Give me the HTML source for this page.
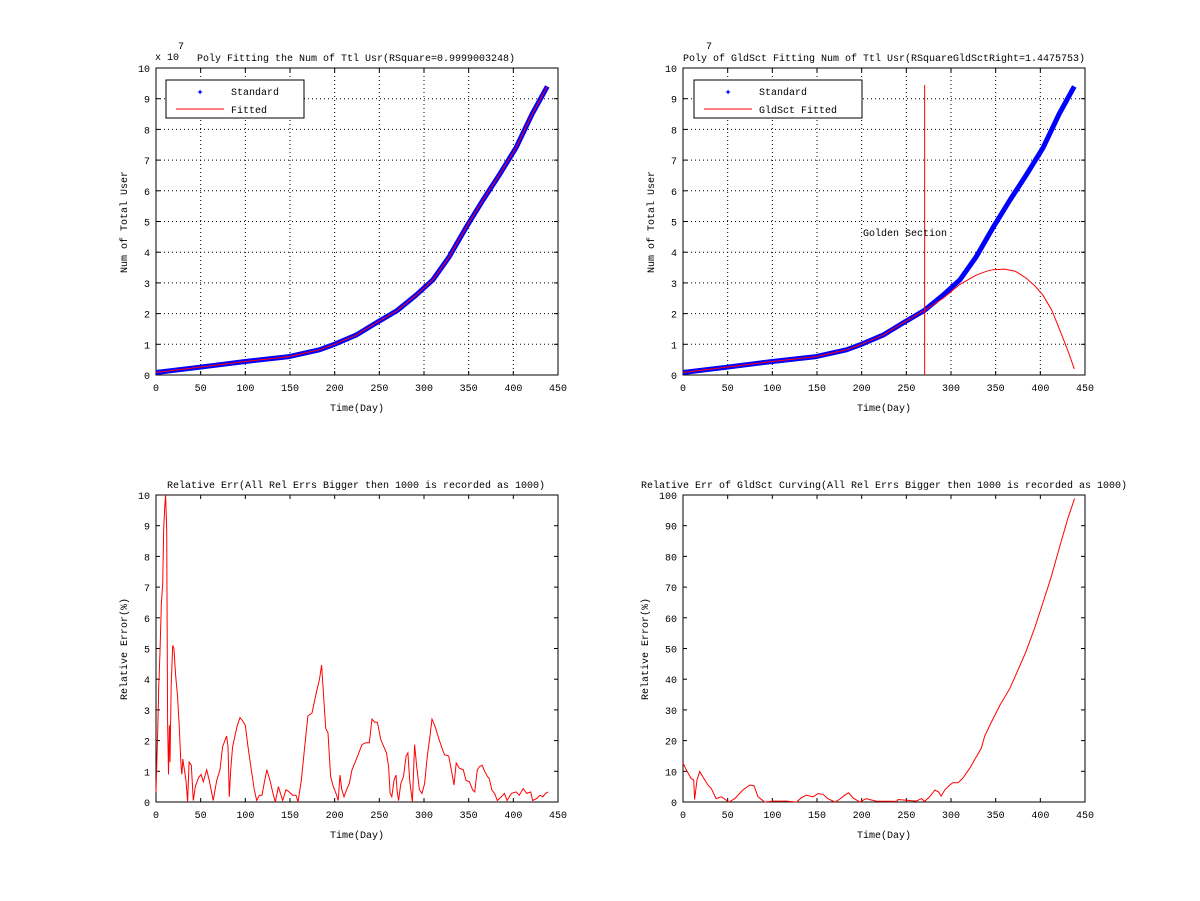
<!DOCTYPE html>
<html><head><meta charset="utf-8"><style>
body{margin:0;background:#fff;}
svg{display:block;font-family:"Liberation Mono","DejaVu Sans Mono",monospace;font-size:10px;}
</style></head><body>
<svg id="fig" width="1200" height="901" viewBox="0 0 1200 901" xmlns="http://www.w3.org/2000/svg"></svg>
<script>
// ---- data ----
const stdDays = [0,48,100,149,183,198,224,246,270,291,310,328,347,366,384,403,421,438];
const stdUsers = [0.08,0.25,0.44,0.6,0.82,0.98,1.3,1.69,2.1,2.6,3.1,3.84,4.8,5.7,6.5,7.4,8.5,9.4];
const gsDays = [0,48,100,149,183,198,224,246,270,291,310,328,340,347,360,372,384,394,403,413,424,432,438];
const gsUsers = [0.08,0.25,0.44,0.6,0.82,0.98,1.3,1.69,2.1,2.5,2.95,3.25,3.38,3.43,3.45,3.38,3.16,2.9,2.6,2.1,1.3,0.7,0.2];
const goldenDay = 270.5;
const goldenTop = 9.45;
const errDays = [0,2,3,4.5,6,7.5,8.6,9.7,10.8,12,13,14,15,15.7,17,18.7,20,22,24,26,28,29,30,31,33.6,35.4,37,39.5,41.8,44,47.8,50.4,53,56.7,59.7,64,68,71.6,74.6,79,80.6,82,83.6,85.8,88,91,94,97,100,103,106.7,110,112.7,115.7,118.7,121,124,127.6,131,133.6,137,141.8,145.5,149,153,156.7,159,162.7,166.4,170,174.6,179,183,185.4,187,190,192.5,195.5,198.5,201.5,204,206,208,210.4,213.4,216.4,219.4,223,227,230.6,235,238.8,241.8,244.8,247.8,251.5,255,258,260.4,262,264,266.4,268.7,270,271.6,274,277,280,282,284,287,289.5,291.8,294.8,297.8,300.7,303.7,306.7,309,312,315.7,320,323,327.6,330.6,333.6,336,339.5,344,347,350.7,354.5,356.7,359.7,362,365,368,371,373,376,379,382,386.6,390,393,397.8,403,406.7,411,415,419.4,421.6,426,430,433,436,439];
const errVals = [0.33,2.4,3.7,4.9,6.5,7.1,8.9,9.6,10,8.9,2.6,0.9,2.5,1.3,3.8,5.1,5,4.1,3.5,2.5,1.2,0.9,1.4,1.2,0.7,0,1.3,1.2,0.05,0.5,0.8,0.9,0.66,1.05,0.7,0.05,0.7,1.05,1.8,2.15,1.8,0.17,1.05,1.8,2.1,2.5,2.75,2.64,2.5,1.8,1.05,0.4,0.05,0.22,0.22,0.6,1.05,0.7,0.28,0,0.5,0.05,0.4,0.33,0.22,0.22,0,0.7,1.8,2.8,2.9,3.5,4.0,4.46,3.7,2.4,2.25,0.83,0.5,0.28,0.05,0.88,0.4,0.17,0.4,0.6,1.05,1.3,1.6,1.87,1.93,1.93,2.7,2.6,2.6,2.04,1.8,1.6,1.15,0.28,0.17,0.7,0.88,0.33,0.05,0.6,0.83,1.5,1.6,0.7,0,1.87,1.15,0.4,0.28,0.6,1.5,2.15,2.7,2.5,2.15,1.76,1.54,1.5,1.05,0.55,1.27,1.1,1.05,0.7,0.66,0.39,0.33,1.05,1.15,1.2,1.0,0.83,0.77,0.39,0.28,0.05,0.17,0.28,0.05,0.28,0.33,0.22,0.44,0.28,0.33,0.05,0.11,0.22,0.17,0.28,0.33];
const gsErrDays = [0,3.7,9,12,13,15.7,18.7,22,28,31.7,37,43,51.5,58,67,74.6,79.5,84,91.4,100.7,115.7,127,132.5,138,145.5,151,156.7,162,170,175,181,185.4,190,198,205,216,239,241,250,261,267,270.5,276,282,286,289,293,298.5,302,308,313,321,326.5,334,337.7,345,354.5,365.7,375,384,393.7,403,412,421.6,431,438.4];
const gsErrVals = [12.7,10.5,7.7,7.2,0.8,7.2,9.9,8.3,5.5,4.4,1.1,1.7,0,1.1,3.9,5.5,5.3,1.7,0,0.3,0.3,0,1.4,2.2,1.7,2.75,2.5,1.1,0,0.8,2.2,3.0,1.4,0,1.1,0.3,0.2,0.8,0.55,0.3,1.1,0.2,1.7,3.9,3.3,1.9,3.9,5.5,6.3,6.3,7.7,11,13.8,17.6,21.5,25.9,31.4,36.9,43,49,56.7,65,73.2,83.1,92.5,98.9];
const xTicks = [0,50,100,150,200,250,300,350,400,450];
const yTicksTop = [0,1,2,3,4,5,6,7,8,9,10];
const yTicksErrL = [0,1,2,3,4,5,6,7,8,9,10];
const yTicksErrR = [0,10,20,30,40,50,60,70,80,90,100];

const NS="http://www.w3.org/2000/svg";
const svg=document.getElementById('fig');
function mk(tag,attrs,parent,text){const e=document.createElementNS(NS,tag);for(const k in attrs)e.setAttribute(k,attrs[k]);if(text!==undefined)e.textContent=text;(parent||svg).appendChild(e);return e;}

function axes(name,x0,x1,y0,y1,ymax,yTicks,grid){
  const g=mk('g',{});
  
  
  const sx=d=>x0+(d/450)*(x1-x0);
  const sy=v=>y0-(v/ymax)*(y0-y1);
  xTicks.forEach(t=>{
    const x=sx(t);
    if(grid&&t>0&&t<450)mk('line',{x1:x,y1:y1,x2:x,y2:y0,stroke:'#000','stroke-dasharray':'1,3','stroke-width':1},g);
    mk('line',{x1:x,y1:y0,x2:x,y2:y0-4,stroke:'#000'},g);
    mk('line',{x1:x,y1:y1,x2:x,y2:y1+4,stroke:'#000'},g);
    const tl=mk('text',{x:x,y:y0+16,'text-anchor':'middle'},g,String(t));
    
    
  });
  yTicks.forEach(t=>{
    const y=sy(t);
    if(grid&&t>0&&t<ymax)mk('line',{x1:x0,y1:y,x2:x1,y2:y,stroke:'#000','stroke-dasharray':'1,3','stroke-width':1},g);
    mk('line',{x1:x0,y1:y,x2:x0+4,y2:y,stroke:'#000'},g);
    mk('line',{x1:x1,y1:y,x2:x1-4,y2:y,stroke:'#000'},g);
    const tl=mk('text',{x:x0-6,y:y+4,'text-anchor':'end'},g,String(t));
    
    
  });
  mk('rect',{x:x0,y:y1,width:x1-x0,height:y0-y1,fill:'none',stroke:'#000'},g);
  return {g,sx,sy};
}
function poly(ax,xs,ys,attrs,name){
  const p=mk('polyline',Object.assign({points:xs.map((d,i)=>ax.sx(d).toFixed(1)+','+ax.sy(ys[i]).toFixed(1)).join(' '),fill:'none'},attrs),ax.g);
  
  
  return p;
}
function label(txt,x,y,name,rot,anchor){
  const a={x:x,y:y,'text-anchor':anchor||'middle'};
  if(rot)a.transform='rotate(-90 '+x+' '+y+')';
  const t=mk('text',a,svg,txt);
  
  
  return t;
}
function legend(x,y,w,txt2){
  const g=mk('g',{});
  
  
  mk('rect',{x:x,y:y,width:w,height:38,fill:'#fff',stroke:'#000'},g);
  mk('text',{x:x+34,y:y+15,'text-anchor':'middle',fill:'#00f','font-size':'11px','font-weight':'bold'},g,'✦');
  const t1=mk('text',{x:x+65,y:y+15},g,'Standard');
  
  
  mk('line',{x1:x+10,y1:y+29,x2:x+58,y2:y+29,stroke:'#f00'},g);
  const t2=mk('text',{x:x+65,y:y+33},g,txt2);
  
  
}

// Top-left
const a1=axes('poly-fit-axes',156,558,375,68,10,yTicksTop,true);
poly(a1,stdDays,stdUsers,{stroke:'#00f','stroke-width':5,'stroke-linejoin':'round'},'standard-series');
poly(a1,stdDays,stdUsers,{stroke:'#f00','stroke-width':1},'fitted-series');
legend(166,80,138,'Fitted');
label('Poly Fitting the Num of Ttl Usr(RSquare=0.9999003248)',356,61,'chart-title');
label('x 10',155,60,'y-scale-label',false,'start');
label('7',178,49,'y-scale-exponent',false,'start');
label('Time(Day)',357,411,'x-axis-title');
label('Num of Total User',127,222,'y-axis-title',true);

// Top-right
const a2=axes('gldsct-fit-axes',683,1085,375,68,10,yTicksTop,true);
poly(a2,stdDays,stdUsers,{stroke:'#00f','stroke-width':5,'stroke-linejoin':'round'},'standard-series');
poly(a2,gsDays,gsUsers,{stroke:'#f00','stroke-width':1},'gldsct-fitted-series');
const gl=mk('line',{x1:a2.sx(goldenDay),y1:a2.sy(goldenTop),x2:a2.sx(goldenDay),y2:a2.sy(0),stroke:'#f00'},a2.g);


label('Golden Section',863,236,'golden-section-label',false,'start');
legend(694,80,168,'GldSct Fitted');
label('Poly of GldSct Fitting Num of Ttl Usr(RSquareGldSctRight=1.4475753)',884,61,'chart-title');
label('7',706,49,'y-scale-exponent',false,'start');
label('Time(Day)',884,411,'x-axis-title');
label('Num of Total User',654,222,'y-axis-title',true);

// Bottom-left
const a3=axes('rel-err-axes',156,558,802,495,10,yTicksErrL,false);
poly(a3,errDays,errVals,{stroke:'#f00','stroke-width':1},'relative-error-series');
label('Relative Err(All Rel Errs Bigger then 1000 is recorded as 1000)',356,488,'chart-title');
label('Time(Day)',357,838,'x-axis-title');
label('Relative Error(%)',127,649,'y-axis-title',true);

// Bottom-right
const a4=axes('gldsct-rel-err-axes',683,1085,802,495,100,yTicksErrR,false);
poly(a4,gsErrDays,gsErrVals,{stroke:'#f00','stroke-width':1},'gldsct-relative-error-series');
label('Relative Err of GldSct Curving(All Rel Errs Bigger then 1000 is recorded as 1000)',884,488,'chart-title');
label('Time(Day)',884,838,'x-axis-title');
label('Relative Error(%)',648,649,'y-axis-title',true);
</script>
</body></html>
